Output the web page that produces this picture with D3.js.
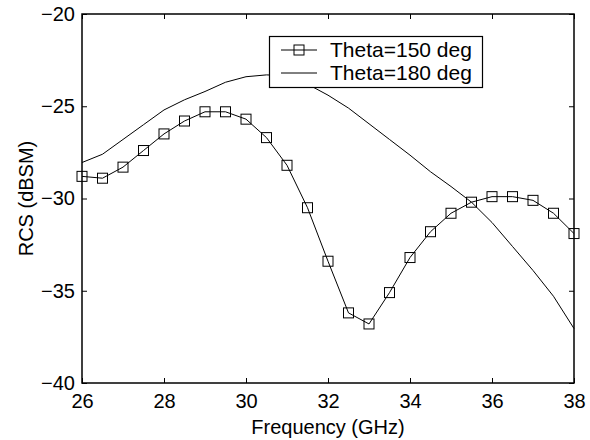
<!DOCTYPE html>
<html>
<head>
<meta charset="utf-8">
<script src="https://cdn.jsdelivr.net/npm/d3@7"></script>
<style>
  html, body { margin: 0; padding: 0; background: #fff; }
  text { font-family: Arial, "Liberation Sans", Helvetica, sans-serif; }
</style>
</head>
<body>
<svg id="chart" width="590" height="440"></svg>
<script>
// ---- Data ----
const freq = [26, 26.5, 27, 27.5, 28, 28.5, 29, 29.5, 30, 30.5, 31, 31.5, 32,
              32.5, 33, 33.5, 34, 34.5, 35, 35.5, 36, 36.5, 37, 37.5, 38];
const theta150 = [-28.8, -28.9, -28.3, -27.4, -26.5, -25.8, -25.3, -25.3, -25.7, -26.7,
                  -28.2, -30.5, -33.4, -36.2, -36.8, -35.1, -33.2, -31.8, -30.8, -30.2,
                  -29.9, -29.9, -30.1, -30.8, -31.9];
const theta180 = [-28.05, -27.6, -26.8, -26.0, -25.2, -24.65, -24.2, -23.7, -23.4, -23.3,
                  -23.35, -23.8, -24.4, -25.1, -25.95, -26.8, -27.65, -28.55, -29.35, -30.2,
                  -31.3, -32.6, -33.9, -35.3, -37.05];
const xTicks = [26, 28, 30, 32, 34, 36, 38];
const yTicks = [-40, -35, -30, -25, -20];
const seriesNames = ["Theta=150 deg", "Theta=180 deg"];
const xLabel = "Frequency (GHz)";
const yLabel = "RCS (dBSM)";

// ---- Layout ----
const svg = d3.select("#chart");
const L = 82, R = 574, T = 14, B = 383;
const x = d3.scaleLinear().domain([26, 38]).range([L, R]);
const y = d3.scaleLinear().domain([-40, -20]).range([B, T]);
const fs = 20;

// ticks (inward) on all sides
const tickLen = 5;
const g = svg.append("g");
const axB = d3.axisBottom(x).tickValues(xTicks).tickSizeInner(-tickLen).tickSizeOuter(0).tickPadding(11).tickFormat(d3.format("d"));
const axT = d3.axisTop(x).tickValues(xTicks).tickSizeInner(-tickLen).tickSizeOuter(0).tickFormat("");
const axL = d3.axisLeft(y).tickValues(yTicks).tickSizeInner(-tickLen).tickSizeOuter(0).tickPadding(7).tickFormat(d3.format("d"));
const axR = d3.axisRight(y).tickValues(yTicks).tickSizeInner(-tickLen).tickSizeOuter(0).tickFormat("");

function styleAxis(sel) {
  sel.select(".domain").remove();
  sel.selectAll(".tick line").attr("stroke", "#000").attr("stroke-width", 1);
  sel.selectAll(".tick text").attr("fill", "#000").style("font-size", fs + "px")
     .style("font-family", "Arial, 'Liberation Sans', sans-serif");
}
g.append("g").attr("transform", `translate(0,${B})`).call(axB).call(styleAxis);
g.append("g").attr("transform", `translate(0,${T})`).call(axT).call(styleAxis);
g.append("g").attr("transform", `translate(${L},0)`).call(axL).call(styleAxis);
g.append("g").attr("transform", `translate(${R},0)`).call(axR).call(styleAxis);

// lines
const lineGen = d3.line().x((d, i) => x(freq[i])).y(d => y(d));
svg.append("path").datum(theta180).attr("d", lineGen)
   .attr("fill", "none").attr("stroke", "#000").attr("stroke-width", 1);
svg.append("path").datum(theta150).attr("d", lineGen)
   .attr("fill", "none").attr("stroke", "#000").attr("stroke-width", 1);

// markers
const ms = 10;
svg.append("g").selectAll("rect").data(theta150).join("rect")
   .attr("x", (d, i) => x(freq[i]) - ms / 2)
   .attr("y", d => y(d) - ms / 2)
   .attr("width", ms).attr("height", ms)
   .attr("fill", "none").attr("stroke", "#000").attr("stroke-width", 1);

// frame
svg.append("rect").attr("x", L).attr("y", T).attr("width", R - L).attr("height", B - T)
   .attr("fill", "none").attr("stroke", "#000").attr("stroke-width", 1.5);

// legend
const lg = svg.append("g");
lg.append("rect").attr("x", 269.5).attr("y", 36.5).attr("width", 213).attr("height", 51)
  .attr("fill", "#fff").attr("stroke", "#000").attr("stroke-width", 1.2);
const rows = [50, 73];
seriesNames.forEach((name, i) => {
  lg.append("line").attr("x1", 281).attr("x2", 317).attr("y1", rows[i]).attr("y2", rows[i])
    .attr("stroke", "#000").attr("stroke-width", 1);
  if (i === 0) {
    lg.append("rect").attr("x", 299 - ms / 2).attr("y", rows[i] - ms / 2)
      .attr("width", ms).attr("height", ms).attr("fill", "none").attr("stroke", "#000");
  }
  lg.append("text").attr("x", 330).attr("y", rows[i]).attr("dy", "0.35em")
    .style("font-size", "21px").attr("fill", "#000").text(name);
});

// axis titles
svg.append("text").attr("x", (L + R) / 2).attr("y", 434).attr("text-anchor", "middle")
   .style("font-size", fs + "px").attr("fill", "#000").text(xLabel);
svg.append("text").attr("transform", `translate(33,${(T + B) / 2}) rotate(-90)`)
   .attr("text-anchor", "middle").style("font-size", fs + "px").attr("fill", "#000").text(yLabel);
</script>
</body>
</html>
